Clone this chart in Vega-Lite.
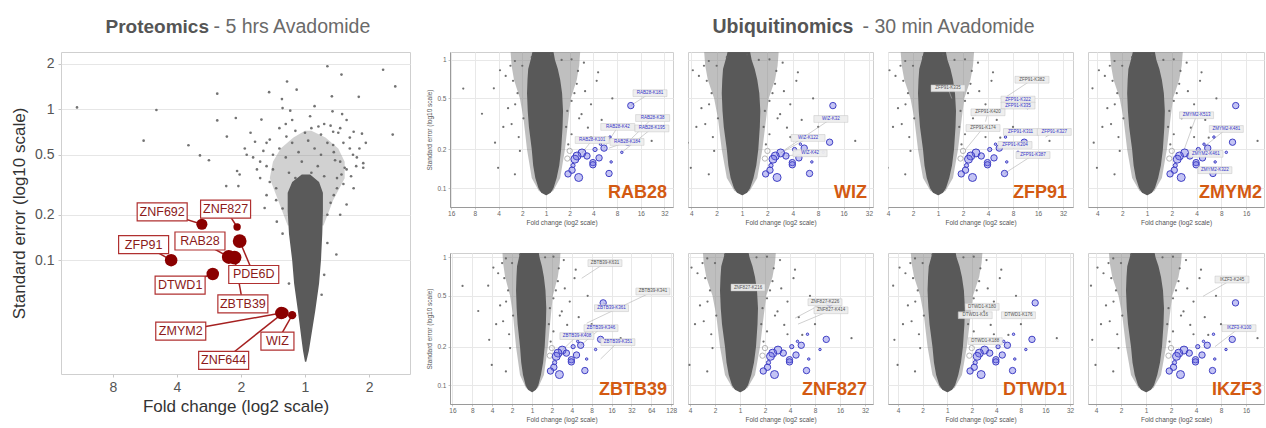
{
"$schema":"https://vega.github.io/schema/vega-lite/v6.json",
"background":"white",
"padding":{"left":10,"top":15,"right":0,"bottom":0},
"config":{"font":"Liberation Sans","view":{"stroke":"#cfcfcf"},"axis":{"domain":false,"tickColor":"#c8c8c8","gridColor":"#e6e6e6","labelColor":"#555555","titleColor":"#333333","titleFontWeight":"normal","labelFlush":false,"labelOverlap":false}},
"datasets":{
"haloL":[{"se":0.17,"lo":-0.27,"hi":0.29},{"se":0.25,"lo":-0.42,"hi":0.44},{"se":0.35,"lo":-0.55,"hi":0.62},{"se":0.45,"lo":-0.5,"hi":0.62},{"se":0.55,"lo":-0.38,"hi":0.52},{"se":0.65,"lo":-0.18,"hi":0.32},{"se":0.72,"lo":0.0,"hi":0.1}],
"cloudL":[{"se":0.0212,"lo":0.0,"hi":0.02},{"se":0.025,"lo":-0.03,"hi":0.06},{"se":0.03,"lo":-0.055,"hi":0.09},{"se":0.046,"lo":-0.11,"hi":0.16},{"se":0.07,"lo":-0.17,"hi":0.22},{"se":0.1,"lo":-0.2,"hi":0.25},{"se":0.15,"lo":-0.25,"hi":0.27},{"se":0.21,"lo":-0.27,"hi":0.28},{"se":0.28,"lo":-0.27,"hi":0.28},{"se":0.33,"lo":-0.2,"hi":0.22},{"se":0.37,"lo":-0.05,"hi":0.08}],
"ptsL":[{"l2":-3.56,"se":1.03},{"l2":-2.32,"se":0.99},{"l2":-2.52,"se":0.62},{"l2":-1.82,"se":0.578},{"l2":-1.64,"se":0.495},{"l2":-1.5,"se":0.46},{"l2":-1.37,"se":1.27},{"l2":-1.37,"se":0.845},{"l2":-1.22,"se":0.66},{"l2":-1.08,"se":0.877},{"l2":-0.68,"se":0.855},{"l2":-0.56,"se":1.3},{"l2":-0.28,"se":1.53},{"l2":-0.13,"se":1.35},{"l2":-0.36,"se":1.17},{"l2":-0.35,"se":1.02},{"l2":-0.23,"se":0.98},{"l2":0.35,"se":1.93},{"l2":0.57,"se":1.7},{"l2":0.42,"se":1.22},{"l2":0.43,"se":0.97},{"l2":0.58,"se":0.93},{"l2":0.84,"se":1.21},{"l2":1.22,"se":1.83},{"l2":1.41,"se":1.42},{"l2":1.37,"se":0.68},{"l2":0.89,"se":0.69},{"l2":0.76,"se":0.71},{"l2":0.44,"se":0.71},{"l2":0.08,"se":0.9},{"l2":0.21,"se":0.77},{"l2":-0.78,"se":0.61},{"l2":-0.94,"se":0.55},{"l2":-1.06,"se":0.39},{"l2":-1.23,"se":0.31},{"l2":-1.04,"se":0.31},{"l2":-0.63,"se":0.222},{"l2":-0.44,"se":0.18},{"l2":0.49,"se":0.109},{"l2":0.26,"se":0.059},{"l2":0.91,"se":0.41},{"l2":0.91,"se":0.44},{"l2":0.76,"se":0.3},{"l2":0.65,"se":0.234},{"l2":0.57,"se":0.37},{"l2":-0.81,"se":0.48},{"l2":-0.91,"se":0.5},{"l2":-0.65,"se":0.53},{"l2":-0.55,"se":0.63},{"l2":-0.29,"se":0.66},{"l2":0.52,"se":0.7},{"l2":0.7,"se":0.55},{"l2":0.81,"se":0.48},{"l2":0.47,"se":0.46},{"l2":0.62,"se":0.41},{"l2":-1.02,"se":0.37},{"l2":0.44,"se":0.58},{"l2":-0.5,"se":0.4},{"l2":0.5,"se":0.35},{"l2":-0.45,"se":0.3},{"l2":0.45,"se":0.27},{"l2":-0.7,"se":0.45},{"l2":0.75,"se":0.5},{"l2":-0.6,"se":0.27},{"l2":0.55,"se":0.2},{"l2":-0.35,"se":0.15},{"l2":0.35,"se":0.13},{"l2":0.3,"se":0.08},{"l2":-0.25,"se":0.07},{"l2":0.6,"se":0.6},{"l2":-0.4,"se":0.75},{"l2":0.3,"se":0.8},{"l2":-0.2,"se":0.85},{"l2":0.15,"se":1.05},{"l2":0.65,"se":0.85},{"l2":0.95,"se":0.6},{"l2":-0.85,"se":0.7},{"l2":-0.7,"se":0.35},{"l2":-0.6,"se":0.42},{"l2":-0.5,"se":0.5},{"l2":-0.4,"se":0.55},{"l2":-0.3,"se":0.48},{"l2":-0.2,"se":0.6},{"l2":-0.1,"se":0.52},{"l2":0.05,"se":0.62},{"l2":0.15,"se":0.55},{"l2":0.25,"se":0.5},{"l2":0.35,"se":0.6},{"l2":0.45,"se":0.52},{"l2":0.55,"se":0.45},{"l2":0.65,"se":0.4},{"l2":0.72,"se":0.36},{"l2":0.8,"se":0.42},{"l2":-0.75,"se":0.4},{"l2":-0.55,"se":0.33},{"l2":0.6,"se":0.32},{"l2":0.5,"se":0.3},{"l2":-0.45,"se":0.25},{"l2":0.4,"se":0.24},{"l2":-0.35,"se":0.22},{"l2":0.35,"se":0.2},{"l2":0.0,"se":0.7},{"l2":0.1,"se":0.75},{"l2":-0.15,"se":0.72},{"l2":0.25,"se":0.68},{"l2":0.4,"se":0.78},{"l2":-0.3,"se":0.8},{"l2":0.55,"se":0.75},{"l2":-0.6,"se":0.6},{"l2":0.85,"se":0.55},{"l2":0.7,"se":0.65},{"l2":-0.05,"se":0.45},{"l2":0.2,"se":0.42},{"l2":-0.25,"se":0.38},{"l2":0.3,"se":0.36},{"l2":-0.15,"se":0.35},{"l2":0.1,"se":0.38}],
"hitsL":[{"gene":"ZNF692","l2":-1.61,"se":0.173,"w":2,"lx":-2.23,"ly":0.209},{"gene":"ZNF827","l2":-1.06,"se":0.166,"w":1,"lx":-1.24,"ly":0.218},{"gene":"PDE6D","l2":-1.02,"se":0.134,"w":3,"lx":-0.8,"ly":0.0804},{"gene":"RAB28","l2":-1.19,"se":0.105,"w":3,"lx":-1.64,"ly":0.134},{"gene":"ZBTB39","l2":-1.1,"se":0.104,"w":3,"lx":-0.97,"ly":0.0514},{"gene":"ZFP91","l2":-2.09,"se":0.1,"w":2.5,"lx":-2.52,"ly":0.127},{"gene":"DTWD1","l2":-1.44,"se":0.081,"w":2.5,"lx":-1.95,"ly":0.0683},{"gene":"ZMYM2","l2":-0.37,"se":0.0446,"w":2.5,"lx":-1.94,"ly":0.0339},{"gene":"ZNF644","l2":-0.34,"se":0.0448,"w":2,"lx":-1.27,"ly":0.0217},{"gene":"WIZ","l2":-0.2,"se":0.0432,"w":1.2,"lx":-0.43,"ly":0.0291}],
"haloS":[{"se":0.09,"lo":0.0,"hi":0.02},{"se":0.095,"lo":-0.3,"hi":0.3},{"se":0.12,"lo":-0.6,"hi":0.6},{"se":0.2,"lo":-0.8,"hi":0.8},{"se":0.35,"lo":-0.95,"hi":0.95},{"se":0.5,"lo":-1.1,"hi":1.05},{"se":0.7,"lo":-1.35,"hi":1.3},{"se":0.9,"lo":-1.45,"hi":1.4},{"se":1.2,"lo":-1.5,"hi":1.45}],
"cloudS":[{"se":0.088,"lo":0.0,"hi":0.02},{"se":0.092,"lo":-0.2,"hi":0.2},{"se":0.1,"lo":-0.32,"hi":0.32},{"se":0.12,"lo":-0.45,"hi":0.45},{"se":0.15,"lo":-0.54,"hi":0.56},{"se":0.2,"lo":-0.6,"hi":0.64},{"se":0.3,"lo":-0.72,"hi":0.7},{"se":0.4,"lo":-0.77,"hi":0.72},{"se":0.55,"lo":-0.8,"hi":0.68},{"se":0.7,"lo":-0.78,"hi":0.6},{"se":0.85,"lo":-0.75,"hi":0.5},{"se":1.0,"lo":-0.65,"hi":0.38},{"se":1.2,"lo":-0.55,"hi":0.3}],
"ptsS":[{"l2":-3.49,"se":0.597},{"l2":-1.94,"se":0.83},{"l2":-2.15,"se":0.226},{"l2":-1.45,"se":0.316},{"l2":-1.6,"se":0.42},{"l2":-1.39,"se":0.686},{"l2":1.65,"se":0.57},{"l2":2.14,"se":0.686},{"l2":2.35,"se":0.34},{"l2":1.77,"se":0.296},{"l2":2.49,"se":0.247},{"l2":4.46,"se":0.233},{"l2":1.5,"se":0.377},{"l2":1.08,"se":0.478},{"l2":1.08,"se":0.263},{"l2":0.94,"se":0.219},{"l2":-2.02,"se":0.144},{"l2":-1.31,"se":0.128},{"l2":-1.1,"se":0.195},{"l2":-1.31,"se":0.98},{"l2":1.08,"se":1.01},{"l2":1.35,"se":0.82},{"l2":0.66,"se":1.0},{"l2":-1.0,"se":0.9},{"l2":-1.2,"se":0.55},{"l2":1.3,"se":0.65},{"l2":-0.95,"se":0.35},{"l2":0.9,"se":0.4},{"l2":-1.15,"se":0.25},{"l2":0.85,"se":0.3},{"l2":1.9,"se":0.45},{"l2":-1.7,"se":0.75},{"l2":1.6,"se":0.95},{"l2":-0.6,"se":1.05},{"l2":0.2,"se":1.1},{"l2":2.8,"se":0.5},{"l2":3.0,"se":0.3},{"l2":-2.7,"se":0.38},{"l2":-2.2,"se":0.6},{"l2":-1.8,"se":0.3},{"l2":1.9,"se":0.25},{"l2":2.2,"se":0.8},{"l2":-1.5,"se":0.9},{"l2":1.4,"se":0.35},{"l2":-1.3,"se":0.45},{"l2":1.2,"se":0.55}],
"grayS":[{"l2":1.0,"se":0.195},{"l2":0.9,"se":0.17}],
"blueS":[{"l2":3.58,"se":0.44,"w":2},{"l2":3.45,"se":0.228,"w":2},{"l2":2.45,"se":0.205,"w":2},{"l2":2.07,"se":0.2,"w":1},{"l2":1.52,"se":0.188,"w":3},{"l2":1.31,"se":0.178,"w":3},{"l2":1.22,"se":0.168,"w":3},{"l2":1.73,"se":0.178,"w":2},{"l2":2.24,"se":0.172,"w":2},{"l2":1.98,"se":0.158,"w":2},{"l2":1.98,"se":0.152,"w":2},{"l2":1.14,"se":0.15,"w":1},{"l2":1.1,"se":0.138,"w":2},{"l2":0.93,"se":0.129,"w":2},{"l2":1.38,"se":0.121,"w":3},{"l2":2.66,"se":0.13,"w":2},{"l2":2.3,"se":0.22,"w":0.5},{"l2":2.75,"se":0.16,"w":0.5},{"l2":2.7,"se":0.25,"w":0.5},{"l2":3.2,"se":0.19,"w":0.5}],
"labS":[
{"panel":"RAB28","txt":"RAB28-K181","lx":4.39,"ly":0.55,"tx":3.58,"ty":0.44,"kind":"blue"},
{"panel":"RAB28","txt":"RAB28-K38","lx":4.5,"ly":0.352,"tx":3.45,"ty":0.228,"kind":"blue"},
{"panel":"RAB28","txt":"RAB28-K42","lx":3.03,"ly":0.3,"tx":2.45,"ty":0.205,"kind":"blue"},
{"panel":"RAB28","txt":"RAB28-K195","lx":4.47,"ly":0.292,"tx":3.2,"ty":0.19,"kind":"blue"},
{"panel":"RAB28","txt":"RAB28-K101","lx":1.95,"ly":0.237,"tx":1.52,"ty":0.188,"kind":"blue"},
{"panel":"RAB28","txt":"RAB28-K184","lx":3.42,"ly":0.229,"tx":2.66,"ty":0.205,"kind":"blue"},
{"panel":"WIZ","txt":"WIZ-K32","lx":3.5,"ly":0.346,"tx":1.7,"ty":0.2,"kind":"blue"},
{"panel":"WIZ","txt":"WIZ-K122","lx":2.6,"ly":0.246,"tx":1.52,"ty":0.188,"kind":"blue"},
{"panel":"WIZ","txt":"WIZ-K42","lx":2.68,"ly":0.187,"tx":1.73,"ty":0.178,"kind":"blue"},
{"panel":"ZFP91","txt":"ZFP91-K382","lx":3.76,"ly":0.7,"tx":2.76,"ty":0.52,"kind":"gray"},
{"panel":"ZFP91","txt":"ZFP91-K335","lx":0.4,"ly":0.6,"tx":0.55,"ty":0.5,"kind":"gray"},
{"panel":"ZFP91","txt":"ZFP91-K322","lx":3.2,"ly":0.49,"tx":3.2,"ty":0.49,"kind":"blue"},
{"panel":"ZFP91","txt":"ZFP91-K335","lx":3.2,"ly":0.44,"tx":3.2,"ty":0.44,"kind":"blue"},
{"panel":"ZFP91","txt":"ZFP91-K420","lx":2.0,"ly":0.39,"tx":1.9,"ty":0.33,"kind":"gray"},
{"panel":"ZFP91","txt":"ZFP91-K174","lx":1.8,"ly":0.294,"tx":1.1,"ty":0.2,"kind":"gray"},
{"panel":"ZFP91","txt":"ZFP91-K311","lx":3.3,"ly":0.274,"tx":3.3,"ty":0.274,"kind":"blue"},
{"panel":"ZFP91","txt":"ZFP91-K327","lx":4.65,"ly":0.274,"tx":4.3,"ty":0.25,"kind":"blue"},
{"panel":"ZFP91","txt":"ZFP91-K204","lx":3.08,"ly":0.217,"tx":3.08,"ty":0.217,"kind":"blue"},
{"panel":"ZFP91","txt":"ZFP91-K387","lx":3.8,"ly":0.181,"tx":2.66,"ty":0.13,"kind":"blue"},
{"panel":"ZMYM2","txt":"ZMYM2-K513","lx":2.0,"ly":0.37,"tx":1.5,"ty":0.2,"kind":"blue"},
{"panel":"ZMYM2","txt":"ZMYM2-K481","lx":3.2,"ly":0.289,"tx":2.3,"ty":0.21,"kind":"blue"},
{"panel":"ZMYM2","txt":"ZMYM2-K461","lx":2.38,"ly":0.185,"tx":2.38,"ty":0.185,"kind":"blue"},
{"panel":"ZMYM2","txt":"ZMYM2-K322","lx":2.74,"ly":0.138,"tx":2.66,"ty":0.13,"kind":"blue"},
{"panel":"ZBTB39","txt":"ZBTB39-K631","lx":3.67,"ly":0.9,"tx":2.5,"ty":0.685,"kind":"gray"},
{"panel":"ZBTB39","txt":"ZBTB39-K341","lx":6.08,"ly":0.54,"tx":2.75,"ty":0.305,"kind":"gray"},
{"panel":"ZBTB39","txt":"ZBTB39-K361","lx":4.0,"ly":0.4,"tx":3.58,"ty":0.44,"kind":"blue"},
{"panel":"ZBTB39","txt":"ZBTB39-K346","lx":3.47,"ly":0.279,"tx":2.45,"ty":0.205,"kind":"blue"},
{"panel":"ZBTB39","txt":"ZBTB39-K408","lx":2.26,"ly":0.242,"tx":1.52,"ty":0.188,"kind":"blue"},
{"panel":"ZBTB39","txt":"ZBTB39-K351","lx":4.32,"ly":0.217,"tx":3.45,"ty":0.16,"kind":"blue"},
{"panel":"ZNF827","txt":"ZNF827-K216","lx":0.32,"ly":0.58,"tx":0.32,"ty":0.58,"kind":"gray"},
{"panel":"ZNF827","txt":"ZNF827-K226","lx":3.4,"ly":0.445,"tx":2.2,"ty":0.334,"kind":"gray"},
{"panel":"ZNF827","txt":"ZNF827-K414","lx":3.64,"ly":0.385,"tx":2.32,"ty":0.3,"kind":"gray"},
{"panel":"DTWD1","txt":"DTWD1-K180","lx":1.42,"ly":0.41,"tx":1.42,"ty":0.41,"kind":"gray"},
{"panel":"DTWD1","txt":"DTWD1-K16","lx":1.14,"ly":0.352,"tx":1.14,"ty":0.352,"kind":"gray"},
{"panel":"DTWD1","txt":"DTWD1-K176","lx":2.9,"ly":0.352,"tx":2.9,"ty":0.352,"kind":"gray"},
{"panel":"DTWD1","txt":"DTWD1-K188","lx":1.55,"ly":0.221,"tx":1.55,"ty":0.221,"kind":"gray"},
{"panel":"IKZF3","txt":"IKZF3-K245","lx":3.44,"ly":0.67,"tx":2.28,"ty":0.495,"kind":"gray"},
{"panel":"IKZF3","txt":"IKZF3-K100","lx":3.72,"ly":0.279,"tx":2.76,"ty":0.2,"kind":"blue"}
]
},
"bounds":"flush",
"spacing":40,
"resolve":{"scale":{"x":"independent","y":"independent","size":"independent","color":"independent"}},
"hconcat":[
{
"width":349,"height":322,
"resolve":{"axis":{"x":"independent"}},
"layer":[
{"data":{"name":"haloL"},"mark":{"type":"area","orient":"horizontal","color":"#7a7a7a","opacity":0.35,"clip":true},
"encoding":{"y":{"field":"se","type":"quantitative","scale":{"type":"log","domain":[0.0176,2.4]},"axis":{"values":[0.1,0.2,0.5,1,2],"format":"~g","title":"Standard error (log10 scale)","labelFontSize":14,"titleFontSize":17,"labelPadding":4,"titlePadding":6,"tickSize":3,"labelOverlap":false}},
"x":{"field":"lo","type":"quantitative","scale":{"domain":[-3.81,1.64]},"axis":{"orient":"top","labels":false,"ticks":false,"domain":false,"grid":false,"title":"Proteomics","titleFontSize":19,"titleFontWeight":"bold","titleColor":"#555555","titleAlign":"left","titleBaseline":"alphabetic","titleX":44,"titleY":-20}},
"x2":{"field":"hi"}}},
{"data":{"name":"cloudL"},"mark":{"type":"area","orient":"horizontal","color":"#5a5a5a","clip":true},
"encoding":{"y":{"field":"se","type":"quantitative","scale":{"type":"log","domain":[0.0176,2.4]}},
"x":{"field":"lo","type":"quantitative","scale":{"domain":[-3.81,1.64]},"axis":{"orient":"top","labels":false,"ticks":false,"domain":false,"grid":false,"title":"- 5 hrs Avadomide","titleFontSize":19.5,"titleFontWeight":"normal","titleColor":"#6a6a6a","titleAlign":"left","titleBaseline":"alphabetic","titleX":152,"titleY":-20}},
"x2":{"field":"hi"}}},
{"data":{"name":"ptsL"},"mark":{"type":"circle","size":7,"color":"#5a5a5a","opacity":0.85,"clip":true},
"encoding":{"y":{"field":"se","type":"quantitative","scale":{"type":"log","domain":[0.0176,2.4]}},
"x":{"field":"l2","type":"quantitative","scale":{"domain":[-3.81,1.64]},"axis":{"orient":"bottom","values":[-3,-2,-1,0,1],"labelExpr":"pow(2, abs(datum.value))","title":"Fold change (log2 scale)","labelFontSize":14,"titleFontSize":17,"labelPadding":3,"titlePadding":4,"tickSize":3,"labelOverlap":false}}}},
{"data":{"name":"hitsL"},"mark":{"type":"rule","color":"#a52020","strokeWidth":1.5},
"encoding":{"y":{"field":"se","type":"quantitative","scale":{"type":"log","domain":[0.0176,2.4]}},"x":{"field":"l2","type":"quantitative","scale":{"domain":[-3.81,1.64]},"axis":{"orient":"top","labels":false,"ticks":false,"domain":false,"grid":false,"title":"Ubiquitinomics","titleFontSize":19.5,"titleFontWeight":"bold","titleColor":"#555555","titleAlign":"left","titleBaseline":"alphabetic","titleX":651,"titleY":-20}},"y2":{"field":"ly"},"x2":{"field":"lx"}}},
{"data":{"name":"hitsL"},"mark":{"type":"circle","color":"#8b0000","opacity":1},
"encoding":{"y":{"field":"se","type":"quantitative","scale":{"type":"log","domain":[0.0176,2.4]}},"x":{"field":"l2","type":"quantitative","scale":{"domain":[-3.81,1.64]},"axis":{"orient":"top","labels":false,"ticks":false,"domain":false,"grid":false,"title":"- 30 min Avadomide","titleFontSize":19.5,"titleFontWeight":"normal","titleColor":"#6a6a6a","titleAlign":"left","titleBaseline":"alphabetic","titleX":801,"titleY":-20}},"size":{"field":"w","type":"quantitative","scale":{"domain":[1,3],"range":[55,190]},"legend":null}}},
{"data":{"name":"hitsL"},"transform":[{"filter":"datum.gene !== 'WIZ'"}],"mark":{"type":"point","shape":"M-1,-0.36L1,-0.36L1,0.36L-1,0.36Z","size":2500,"filled":true,"fill":"#ffffff","stroke":"#b03030","strokeWidth":1.2,"opacity":1},
"encoding":{"y":{"field":"ly","type":"quantitative","scale":{"type":"log","domain":[0.0176,2.4]}},"x":{"field":"lx","type":"quantitative","scale":{"domain":[-3.81,1.64]},"axis":null}}},
{"data":{"name":"hitsL"},"transform":[{"filter":"datum.gene === 'WIZ'"}],"mark":{"type":"point","shape":"M-1,-0.545L1,-0.545L1,0.545L-1,0.545Z","size":1089,"filled":true,"fill":"#ffffff","stroke":"#b03030","strokeWidth":1.2,"opacity":1},
"encoding":{"y":{"field":"ly","type":"quantitative","scale":{"type":"log","domain":[0.0176,2.4]}},"x":{"field":"lx","type":"quantitative","scale":{"domain":[-3.81,1.64]},"axis":null}}},
{"data":{"name":"hitsL"},"mark":{"type":"text","fontSize":12.5,"color":"#8b1a1a","baseline":"middle","align":"center"},
"encoding":{"y":{"field":"ly","type":"quantitative","scale":{"type":"log","domain":[0.0176,2.4]}},"x":{"field":"lx","type":"quantitative","scale":{"domain":[-3.81,1.64]},"axis":null},"text":{"field":"gene"}}}
]
},
{
"bounds":"flush",
"columns":4,
"spacing":{"row":46,"column":15},
"resolve":{"scale":{"x":"independent","y":"independent"}},
"concat":[
{"width":223,"height":155,"resolve":{"axis":{"x":"independent"}},
"title":{"text":"RAB28","orient":"top","anchor":"end","frame":"group","baseline":"alphabetic","offset":-164,"dx":-6,"fontSize":18,"fontWeight":"bold","color":"#d35a12"},
"layer":[
{"data":{"name":"haloS"},"mark":{"type":"area","orient":"horizontal","color":"#7f7f7f","opacity":0.5,"clip":true},"encoding":{"y":{"field":"se","type":"quantitative","scale":{"type":"log","domain":[0.0712,1.152]},"axis":{"values":[0.1,0.2,0.5,1],"format":"~g","title":"Standard error (log10 scale)","labelFontSize":6.5,"titleFontSize":6.5,"tickSize":2,"labelPadding":2,"titlePadding":4,"labelColor":"#666666","titleColor":"#555555","gridColor":"#e8e8e8","domain":true,"domainColor":"#9a9a9a","labelOverlap":false}},"x":{"field":"lo","type":"quantitative","scale":{"domain":[-4.05,5.36]},"axis":{"values":[-4,-3,-2,-1,0,1,2,3,4,5],"labelExpr":"pow(2, abs(datum.value))","title":"Fold change (log2 scale)","labelFontSize":6.5,"titleFontSize":6.5,"tickSize":2,"labelPadding":1,"titlePadding":3,"labelColor":"#666666","titleColor":"#555555","gridColor":"#e8e8e8","domain":true,"domainColor":"#9a9a9a","labelOverlap":false}},"x2":{"field":"hi"}}},
{"data":{"name":"cloudS"},"mark":{"type":"area","orient":"horizontal","color":"#595959","clip":true},"encoding":{"y":{"field":"se","type":"quantitative","scale":{"type":"log","domain":[0.0712,1.152]}},"x":{"field":"lo","type":"quantitative","scale":{"domain":[-4.05,5.36]},"axis":null},"x2":{"field":"hi"}}},
{"data":{"name":"ptsS"},"mark":{"type":"circle","size":5,"color":"#606060","opacity":0.9,"clip":true},"encoding":{"y":{"field":"se","type":"quantitative","scale":{"type":"log","domain":[0.0712,1.152]}},"x":{"field":"l2","type":"quantitative","scale":{"domain":[-4.05,5.36]},"axis":null}}},
{"data":{"name":"labS"},"transform":[{"filter":"datum.panel === 'RAB28'"}],"mark":{"type":"rule","color":"#b0b0b0","strokeWidth":0.6},"encoding":{"y":{"field":"ly","type":"quantitative","scale":{"type":"log","domain":[0.0712,1.152]}},"x":{"field":"lx","type":"quantitative","scale":{"domain":[-4.05,5.36]},"axis":null},"y2":{"field":"ty"},"x2":{"field":"tx"}}},
{"data":{"name":"grayS"},"mark":{"type":"point","size":28,"color":"#9a9a9a","strokeWidth":1,"clip":true},"encoding":{"y":{"field":"se","type":"quantitative","scale":{"type":"log","domain":[0.0712,1.152]}},"x":{"field":"l2","type":"quantitative","scale":{"domain":[-4.05,5.36]},"axis":null}}},
{"data":{"name":"blueS"},"mark":{"type":"circle","fill":"#6b6be3","fillOpacity":0.4,"stroke":"#3f3fc4","strokeWidth":1,"clip":true},"encoding":{"y":{"field":"se","type":"quantitative","scale":{"type":"log","domain":[0.0712,1.152]}},"x":{"field":"l2","type":"quantitative","scale":{"domain":[-4.05,5.36]},"axis":null},"size":{"field":"w","type":"quantitative","scale":{"domain":[0.5,3],"range":[6,64]},"legend":null}}},
{"data":{"name":"labS"},"transform":[{"filter":"datum.panel === 'RAB28'"}],"mark":{"type":"point","shape":"M-1,-0.2L1,-0.2L1,0.2L-1,0.2Z","size":1156,"filled":true,"fill":"#eeeeee","stroke":"#c2c2c2","strokeWidth":0.5,"opacity":0.95},"encoding":{"y":{"field":"ly","type":"quantitative","scale":{"type":"log","domain":[0.0712,1.152]}},"x":{"field":"lx","type":"quantitative","scale":{"domain":[-4.05,5.36]},"axis":null}}},
{"data":{"name":"labS"},"transform":[{"filter":"datum.panel === 'RAB28'"}],"mark":{"type":"text","fontSize":4.5,"baseline":"middle"},"encoding":{"y":{"field":"ly","type":"quantitative","scale":{"type":"log","domain":[0.0712,1.152]}},"x":{"field":"lx","type":"quantitative","scale":{"domain":[-4.05,5.36]},"axis":null},"text":{"field":"txt"},"color":{"field":"kind","type":"nominal","scale":{"domain":["blue","gray"],"range":["#3535c8","#555555"]},"legend":null}}}
]},
{"width":185,"height":155,"resolve":{"axis":{"x":"independent"}},
"title":{"text":"WIZ","orient":"top","anchor":"end","frame":"group","baseline":"alphabetic","offset":-164,"dx":-6,"fontSize":18,"fontWeight":"bold","color":"#d35a12"},
"layer":[
{"data":{"name":"haloS"},"mark":{"type":"area","orient":"horizontal","color":"#7f7f7f","opacity":0.5,"clip":true},"encoding":{"y":{"field":"se","type":"quantitative","scale":{"type":"log","domain":[0.0712,1.152]},"axis":{"values":[0.1,0.2,0.5,1],"labels":false,"ticks":false,"title":null,"gridColor":"#e8e8e8"}},"x":{"field":"lo","type":"quantitative","scale":{"domain":[-2.13,5.16]},"axis":{"values":[-2,-1,0,1,2,3,4,5],"labelExpr":"pow(2, abs(datum.value))","title":"Fold change (log2 scale)","labelFontSize":6.5,"titleFontSize":6.5,"tickSize":2,"labelPadding":1,"titlePadding":3,"labelColor":"#666666","titleColor":"#555555","gridColor":"#e8e8e8","domain":true,"domainColor":"#9a9a9a","labelOverlap":false}},"x2":{"field":"hi"}}},
{"data":{"name":"cloudS"},"mark":{"type":"area","orient":"horizontal","color":"#595959","clip":true},"encoding":{"y":{"field":"se","type":"quantitative","scale":{"type":"log","domain":[0.0712,1.152]}},"x":{"field":"lo","type":"quantitative","scale":{"domain":[-2.13,5.16]},"axis":null},"x2":{"field":"hi"}}},
{"data":{"name":"ptsS"},"mark":{"type":"circle","size":5,"color":"#606060","opacity":0.9,"clip":true},"encoding":{"y":{"field":"se","type":"quantitative","scale":{"type":"log","domain":[0.0712,1.152]}},"x":{"field":"l2","type":"quantitative","scale":{"domain":[-2.13,5.16]},"axis":null}}},
{"data":{"name":"labS"},"transform":[{"filter":"datum.panel === 'WIZ'"}],"mark":{"type":"rule","color":"#b0b0b0","strokeWidth":0.6},"encoding":{"y":{"field":"ly","type":"quantitative","scale":{"type":"log","domain":[0.0712,1.152]}},"x":{"field":"lx","type":"quantitative","scale":{"domain":[-2.13,5.16]},"axis":null},"y2":{"field":"ty"},"x2":{"field":"tx"}}},
{"data":{"name":"grayS"},"mark":{"type":"point","size":28,"color":"#9a9a9a","strokeWidth":1,"clip":true},"encoding":{"y":{"field":"se","type":"quantitative","scale":{"type":"log","domain":[0.0712,1.152]}},"x":{"field":"l2","type":"quantitative","scale":{"domain":[-2.13,5.16]},"axis":null}}},
{"data":{"name":"blueS"},"mark":{"type":"circle","fill":"#6b6be3","fillOpacity":0.4,"stroke":"#3f3fc4","strokeWidth":1,"clip":true},"encoding":{"y":{"field":"se","type":"quantitative","scale":{"type":"log","domain":[0.0712,1.152]}},"x":{"field":"l2","type":"quantitative","scale":{"domain":[-2.13,5.16]},"axis":null},"size":{"field":"w","type":"quantitative","scale":{"domain":[0.5,3],"range":[6,64]},"legend":null}}},
{"data":{"name":"labS"},"transform":[{"filter":"datum.panel === 'WIZ'"}],"mark":{"type":"point","shape":"M-1,-0.2L1,-0.2L1,0.2L-1,0.2Z","size":1156,"filled":true,"fill":"#eeeeee","stroke":"#c2c2c2","strokeWidth":0.5,"opacity":0.95},"encoding":{"y":{"field":"ly","type":"quantitative","scale":{"type":"log","domain":[0.0712,1.152]}},"x":{"field":"lx","type":"quantitative","scale":{"domain":[-2.13,5.16]},"axis":null}}},
{"data":{"name":"labS"},"transform":[{"filter":"datum.panel === 'WIZ'"}],"mark":{"type":"text","fontSize":4.5,"baseline":"middle"},"encoding":{"y":{"field":"ly","type":"quantitative","scale":{"type":"log","domain":[0.0712,1.152]}},"x":{"field":"lx","type":"quantitative","scale":{"domain":[-2.13,5.16]},"axis":null},"text":{"field":"txt"},"color":{"field":"kind","type":"nominal","scale":{"domain":["blue","gray"],"range":["#3535c8","#555555"]},"legend":null}}}
]},
{"width":185,"height":155,"resolve":{"axis":{"x":"independent"}},
"title":{"text":"ZFP91","orient":"top","anchor":"end","frame":"group","baseline":"alphabetic","offset":-164,"dx":-6,"fontSize":18,"fontWeight":"bold","color":"#d35a12"},
"layer":[
{"data":{"name":"haloS"},"mark":{"type":"area","orient":"horizontal","color":"#7f7f7f","opacity":0.5,"clip":true},"encoding":{"y":{"field":"se","type":"quantitative","scale":{"type":"log","domain":[0.0712,1.152]},"axis":{"values":[0.1,0.2,0.5,1],"labels":false,"ticks":false,"title":null,"gridColor":"#e8e8e8"}},"x":{"field":"lo","type":"quantitative","scale":{"domain":[-2.0,5.4]},"axis":{"values":[-2,-1,0,1,2,3,4,5],"labelExpr":"pow(2, abs(datum.value))","title":"Fold change (log2 scale)","labelFontSize":6.5,"titleFontSize":6.5,"tickSize":2,"labelPadding":1,"titlePadding":3,"labelColor":"#666666","titleColor":"#555555","gridColor":"#e8e8e8","domain":true,"domainColor":"#9a9a9a","labelOverlap":false}},"x2":{"field":"hi"}}},
{"data":{"name":"cloudS"},"mark":{"type":"area","orient":"horizontal","color":"#595959","clip":true},"encoding":{"y":{"field":"se","type":"quantitative","scale":{"type":"log","domain":[0.0712,1.152]}},"x":{"field":"lo","type":"quantitative","scale":{"domain":[-2.0,5.4]},"axis":null},"x2":{"field":"hi"}}},
{"data":{"name":"ptsS"},"mark":{"type":"circle","size":5,"color":"#606060","opacity":0.9,"clip":true},"encoding":{"y":{"field":"se","type":"quantitative","scale":{"type":"log","domain":[0.0712,1.152]}},"x":{"field":"l2","type":"quantitative","scale":{"domain":[-2.0,5.4]},"axis":null}}},
{"data":{"name":"labS"},"transform":[{"filter":"datum.panel === 'ZFP91'"}],"mark":{"type":"rule","color":"#b0b0b0","strokeWidth":0.6},"encoding":{"y":{"field":"ly","type":"quantitative","scale":{"type":"log","domain":[0.0712,1.152]}},"x":{"field":"lx","type":"quantitative","scale":{"domain":[-2.0,5.4]},"axis":null},"y2":{"field":"ty"},"x2":{"field":"tx"}}},
{"data":{"name":"grayS"},"mark":{"type":"point","size":28,"color":"#9a9a9a","strokeWidth":1,"clip":true},"encoding":{"y":{"field":"se","type":"quantitative","scale":{"type":"log","domain":[0.0712,1.152]}},"x":{"field":"l2","type":"quantitative","scale":{"domain":[-2.0,5.4]},"axis":null}}},
{"data":{"name":"blueS"},"mark":{"type":"circle","fill":"#6b6be3","fillOpacity":0.4,"stroke":"#3f3fc4","strokeWidth":1,"clip":true},"encoding":{"y":{"field":"se","type":"quantitative","scale":{"type":"log","domain":[0.0712,1.152]}},"x":{"field":"l2","type":"quantitative","scale":{"domain":[-2.0,5.4]},"axis":null},"size":{"field":"w","type":"quantitative","scale":{"domain":[0.5,3],"range":[6,64]},"legend":null}}},
{"data":{"name":"labS"},"transform":[{"filter":"datum.panel === 'ZFP91'"}],"mark":{"type":"point","shape":"M-1,-0.2L1,-0.2L1,0.2L-1,0.2Z","size":1156,"filled":true,"fill":"#eeeeee","stroke":"#c2c2c2","strokeWidth":0.5,"opacity":0.95},"encoding":{"y":{"field":"ly","type":"quantitative","scale":{"type":"log","domain":[0.0712,1.152]}},"x":{"field":"lx","type":"quantitative","scale":{"domain":[-2.0,5.4]},"axis":null}}},
{"data":{"name":"labS"},"transform":[{"filter":"datum.panel === 'ZFP91'"}],"mark":{"type":"text","fontSize":4.5,"baseline":"middle"},"encoding":{"y":{"field":"ly","type":"quantitative","scale":{"type":"log","domain":[0.0712,1.152]}},"x":{"field":"lx","type":"quantitative","scale":{"domain":[-2.0,5.4]},"axis":null},"text":{"field":"txt"},"color":{"field":"kind","type":"nominal","scale":{"domain":["blue","gray"],"range":["#3535c8","#555555"]},"legend":null}}}
]},
{"width":176,"height":155,"resolve":{"axis":{"x":"independent"}},
"title":{"text":"ZMYM2","orient":"top","anchor":"end","frame":"group","baseline":"alphabetic","offset":-164,"dx":-2,"fontSize":18,"fontWeight":"bold","color":"#d35a12"},
"layer":[
{"data":{"name":"haloS"},"mark":{"type":"area","orient":"horizontal","color":"#7f7f7f","opacity":0.5,"clip":true},"encoding":{"y":{"field":"se","type":"quantitative","scale":{"type":"log","domain":[0.0712,1.152]},"axis":{"values":[0.1,0.2,0.5,1],"labels":false,"ticks":false,"title":null,"gridColor":"#e8e8e8"}},"x":{"field":"lo","type":"quantitative","scale":{"domain":[-2.38,4.72]},"axis":{"values":[-2,-1,0,1,2,3,4],"labelExpr":"pow(2, abs(datum.value))","title":"Fold change (log2 scale)","labelFontSize":6.5,"titleFontSize":6.5,"tickSize":2,"labelPadding":1,"titlePadding":3,"labelColor":"#666666","titleColor":"#555555","gridColor":"#e8e8e8","domain":true,"domainColor":"#9a9a9a","labelOverlap":false}},"x2":{"field":"hi"}}},
{"data":{"name":"cloudS"},"mark":{"type":"area","orient":"horizontal","color":"#595959","clip":true},"encoding":{"y":{"field":"se","type":"quantitative","scale":{"type":"log","domain":[0.0712,1.152]}},"x":{"field":"lo","type":"quantitative","scale":{"domain":[-2.38,4.72]},"axis":null},"x2":{"field":"hi"}}},
{"data":{"name":"ptsS"},"mark":{"type":"circle","size":5,"color":"#606060","opacity":0.9,"clip":true},"encoding":{"y":{"field":"se","type":"quantitative","scale":{"type":"log","domain":[0.0712,1.152]}},"x":{"field":"l2","type":"quantitative","scale":{"domain":[-2.38,4.72]},"axis":null}}},
{"data":{"name":"labS"},"transform":[{"filter":"datum.panel === 'ZMYM2'"}],"mark":{"type":"rule","color":"#b0b0b0","strokeWidth":0.6},"encoding":{"y":{"field":"ly","type":"quantitative","scale":{"type":"log","domain":[0.0712,1.152]}},"x":{"field":"lx","type":"quantitative","scale":{"domain":[-2.38,4.72]},"axis":null},"y2":{"field":"ty"},"x2":{"field":"tx"}}},
{"data":{"name":"grayS"},"mark":{"type":"point","size":28,"color":"#9a9a9a","strokeWidth":1,"clip":true},"encoding":{"y":{"field":"se","type":"quantitative","scale":{"type":"log","domain":[0.0712,1.152]}},"x":{"field":"l2","type":"quantitative","scale":{"domain":[-2.38,4.72]},"axis":null}}},
{"data":{"name":"blueS"},"mark":{"type":"circle","fill":"#6b6be3","fillOpacity":0.4,"stroke":"#3f3fc4","strokeWidth":1,"clip":true},"encoding":{"y":{"field":"se","type":"quantitative","scale":{"type":"log","domain":[0.0712,1.152]}},"x":{"field":"l2","type":"quantitative","scale":{"domain":[-2.38,4.72]},"axis":null},"size":{"field":"w","type":"quantitative","scale":{"domain":[0.5,3],"range":[6,64]},"legend":null}}},
{"data":{"name":"labS"},"transform":[{"filter":"datum.panel === 'ZMYM2'"}],"mark":{"type":"point","shape":"M-1,-0.2L1,-0.2L1,0.2L-1,0.2Z","size":1156,"filled":true,"fill":"#eeeeee","stroke":"#c2c2c2","strokeWidth":0.5,"opacity":0.95},"encoding":{"y":{"field":"ly","type":"quantitative","scale":{"type":"log","domain":[0.0712,1.152]}},"x":{"field":"lx","type":"quantitative","scale":{"domain":[-2.38,4.72]},"axis":null}}},
{"data":{"name":"labS"},"transform":[{"filter":"datum.panel === 'ZMYM2'"}],"mark":{"type":"text","fontSize":4.5,"baseline":"middle"},"encoding":{"y":{"field":"ly","type":"quantitative","scale":{"type":"log","domain":[0.0712,1.152]}},"x":{"field":"lx","type":"quantitative","scale":{"domain":[-2.38,4.72]},"axis":null},"text":{"field":"txt"},"color":{"field":"kind","type":"nominal","scale":{"domain":["blue","gray"],"range":["#3535c8","#555555"]},"legend":null}}}
]},
{"width":223,"height":151,"resolve":{"axis":{"x":"independent"}},
"title":{"text":"ZBTB39","orient":"top","anchor":"end","frame":"group","baseline":"alphabetic","offset":-160,"dx":-6,"fontSize":18,"fontWeight":"bold","color":"#d35a12"},
"layer":[
{"data":{"name":"haloS"},"mark":{"type":"area","orient":"horizontal","color":"#7f7f7f","opacity":0.5,"clip":true},"encoding":{"y":{"field":"se","type":"quantitative","scale":{"type":"log","domain":[0.0712,1.08]},"axis":{"values":[0.1,0.2,0.5,1],"format":"~g","title":"Standard error (log10 scale)","labelFontSize":6.5,"titleFontSize":6.5,"tickSize":2,"labelPadding":2,"titlePadding":4,"labelColor":"#666666","titleColor":"#555555","gridColor":"#e8e8e8","domain":true,"domainColor":"#9a9a9a","labelOverlap":false}},"x":{"field":"lo","type":"quantitative","scale":{"domain":[-4.12,7.09]},"axis":{"values":[-4,-3,-2,-1,0,1,2,3,4,5,6,7],"labelExpr":"pow(2, abs(datum.value))","title":"Fold change (log2 scale)","labelFontSize":6.5,"titleFontSize":6.5,"tickSize":2,"labelPadding":1,"titlePadding":3,"labelColor":"#666666","titleColor":"#555555","gridColor":"#e8e8e8","domain":true,"domainColor":"#9a9a9a","labelOverlap":false}},"x2":{"field":"hi"}}},
{"data":{"name":"cloudS"},"mark":{"type":"area","orient":"horizontal","color":"#595959","clip":true},"encoding":{"y":{"field":"se","type":"quantitative","scale":{"type":"log","domain":[0.0712,1.08]}},"x":{"field":"lo","type":"quantitative","scale":{"domain":[-4.12,7.09]},"axis":null},"x2":{"field":"hi"}}},
{"data":{"name":"ptsS"},"mark":{"type":"circle","size":5,"color":"#606060","opacity":0.9,"clip":true},"encoding":{"y":{"field":"se","type":"quantitative","scale":{"type":"log","domain":[0.0712,1.08]}},"x":{"field":"l2","type":"quantitative","scale":{"domain":[-4.12,7.09]},"axis":null}}},
{"data":{"name":"labS"},"transform":[{"filter":"datum.panel === 'ZBTB39'"}],"mark":{"type":"rule","color":"#b0b0b0","strokeWidth":0.6},"encoding":{"y":{"field":"ly","type":"quantitative","scale":{"type":"log","domain":[0.0712,1.08]}},"x":{"field":"lx","type":"quantitative","scale":{"domain":[-4.12,7.09]},"axis":null},"y2":{"field":"ty"},"x2":{"field":"tx"}}},
{"data":{"name":"grayS"},"mark":{"type":"point","size":28,"color":"#9a9a9a","strokeWidth":1,"clip":true},"encoding":{"y":{"field":"se","type":"quantitative","scale":{"type":"log","domain":[0.0712,1.08]}},"x":{"field":"l2","type":"quantitative","scale":{"domain":[-4.12,7.09]},"axis":null}}},
{"data":{"name":"blueS"},"mark":{"type":"circle","fill":"#6b6be3","fillOpacity":0.4,"stroke":"#3f3fc4","strokeWidth":1,"clip":true},"encoding":{"y":{"field":"se","type":"quantitative","scale":{"type":"log","domain":[0.0712,1.08]}},"x":{"field":"l2","type":"quantitative","scale":{"domain":[-4.12,7.09]},"axis":null},"size":{"field":"w","type":"quantitative","scale":{"domain":[0.5,3],"range":[6,64]},"legend":null}}},
{"data":{"name":"labS"},"transform":[{"filter":"datum.panel === 'ZBTB39'"}],"mark":{"type":"point","shape":"M-1,-0.2L1,-0.2L1,0.2L-1,0.2Z","size":1156,"filled":true,"fill":"#eeeeee","stroke":"#c2c2c2","strokeWidth":0.5,"opacity":0.95},"encoding":{"y":{"field":"ly","type":"quantitative","scale":{"type":"log","domain":[0.0712,1.08]}},"x":{"field":"lx","type":"quantitative","scale":{"domain":[-4.12,7.09]},"axis":null}}},
{"data":{"name":"labS"},"transform":[{"filter":"datum.panel === 'ZBTB39'"}],"mark":{"type":"text","fontSize":4.5,"baseline":"middle"},"encoding":{"y":{"field":"ly","type":"quantitative","scale":{"type":"log","domain":[0.0712,1.08]}},"x":{"field":"lx","type":"quantitative","scale":{"domain":[-4.12,7.09]},"axis":null},"text":{"field":"txt"},"color":{"field":"kind","type":"nominal","scale":{"domain":["blue","gray"],"range":["#3535c8","#555555"]},"legend":null}}}
]},
{"width":185,"height":151,"resolve":{"axis":{"x":"independent"}},
"title":{"text":"ZNF827","orient":"top","anchor":"end","frame":"group","baseline":"alphabetic","offset":-160,"dx":-6,"fontSize":18,"fontWeight":"bold","color":"#d35a12"},
"layer":[
{"data":{"name":"haloS"},"mark":{"type":"area","orient":"horizontal","color":"#7f7f7f","opacity":0.5,"clip":true},"encoding":{"y":{"field":"se","type":"quantitative","scale":{"type":"log","domain":[0.0712,1.08]},"axis":{"values":[0.1,0.2,0.5,1],"labels":false,"ticks":false,"title":null,"gridColor":"#e8e8e8"}},"x":{"field":"lo","type":"quantitative","scale":{"domain":[-2.08,5.32]},"axis":{"values":[-2,-1,0,1,2,3,4,5],"labelExpr":"pow(2, abs(datum.value))","title":"Fold change (log2 scale)","labelFontSize":6.5,"titleFontSize":6.5,"tickSize":2,"labelPadding":1,"titlePadding":3,"labelColor":"#666666","titleColor":"#555555","gridColor":"#e8e8e8","domain":true,"domainColor":"#9a9a9a","labelOverlap":false}},"x2":{"field":"hi"}}},
{"data":{"name":"cloudS"},"mark":{"type":"area","orient":"horizontal","color":"#595959","clip":true},"encoding":{"y":{"field":"se","type":"quantitative","scale":{"type":"log","domain":[0.0712,1.08]}},"x":{"field":"lo","type":"quantitative","scale":{"domain":[-2.08,5.32]},"axis":null},"x2":{"field":"hi"}}},
{"data":{"name":"ptsS"},"mark":{"type":"circle","size":5,"color":"#606060","opacity":0.9,"clip":true},"encoding":{"y":{"field":"se","type":"quantitative","scale":{"type":"log","domain":[0.0712,1.08]}},"x":{"field":"l2","type":"quantitative","scale":{"domain":[-2.08,5.32]},"axis":null}}},
{"data":{"name":"labS"},"transform":[{"filter":"datum.panel === 'ZNF827'"}],"mark":{"type":"rule","color":"#b0b0b0","strokeWidth":0.6},"encoding":{"y":{"field":"ly","type":"quantitative","scale":{"type":"log","domain":[0.0712,1.08]}},"x":{"field":"lx","type":"quantitative","scale":{"domain":[-2.08,5.32]},"axis":null},"y2":{"field":"ty"},"x2":{"field":"tx"}}},
{"data":{"name":"grayS"},"mark":{"type":"point","size":28,"color":"#9a9a9a","strokeWidth":1,"clip":true},"encoding":{"y":{"field":"se","type":"quantitative","scale":{"type":"log","domain":[0.0712,1.08]}},"x":{"field":"l2","type":"quantitative","scale":{"domain":[-2.08,5.32]},"axis":null}}},
{"data":{"name":"blueS"},"mark":{"type":"circle","fill":"#6b6be3","fillOpacity":0.4,"stroke":"#3f3fc4","strokeWidth":1,"clip":true},"encoding":{"y":{"field":"se","type":"quantitative","scale":{"type":"log","domain":[0.0712,1.08]}},"x":{"field":"l2","type":"quantitative","scale":{"domain":[-2.08,5.32]},"axis":null},"size":{"field":"w","type":"quantitative","scale":{"domain":[0.5,3],"range":[6,64]},"legend":null}}},
{"data":{"name":"labS"},"transform":[{"filter":"datum.panel === 'ZNF827'"}],"mark":{"type":"point","shape":"M-1,-0.2L1,-0.2L1,0.2L-1,0.2Z","size":1156,"filled":true,"fill":"#eeeeee","stroke":"#c2c2c2","strokeWidth":0.5,"opacity":0.95},"encoding":{"y":{"field":"ly","type":"quantitative","scale":{"type":"log","domain":[0.0712,1.08]}},"x":{"field":"lx","type":"quantitative","scale":{"domain":[-2.08,5.32]},"axis":null}}},
{"data":{"name":"labS"},"transform":[{"filter":"datum.panel === 'ZNF827'"}],"mark":{"type":"text","fontSize":4.5,"baseline":"middle"},"encoding":{"y":{"field":"ly","type":"quantitative","scale":{"type":"log","domain":[0.0712,1.08]}},"x":{"field":"lx","type":"quantitative","scale":{"domain":[-2.08,5.32]},"axis":null},"text":{"field":"txt"},"color":{"field":"kind","type":"nominal","scale":{"domain":["blue","gray"],"range":["#3535c8","#555555"]},"legend":null}}}
]},
{"width":185,"height":151,"resolve":{"axis":{"x":"independent"}},
"title":{"text":"DTWD1","orient":"top","anchor":"end","frame":"group","baseline":"alphabetic","offset":-160,"dx":-6,"fontSize":18,"fontWeight":"bold","color":"#d35a12"},
"layer":[
{"data":{"name":"haloS"},"mark":{"type":"area","orient":"horizontal","color":"#7f7f7f","opacity":0.5,"clip":true},"encoding":{"y":{"field":"se","type":"quantitative","scale":{"type":"log","domain":[0.0712,1.08]},"axis":{"values":[0.1,0.2,0.5,1],"labels":false,"ticks":false,"title":null,"gridColor":"#e8e8e8"}},"x":{"field":"lo","type":"quantitative","scale":{"domain":[-2.41,5.12]},"axis":{"values":[-2,-1,0,1,2,3,4,5],"labelExpr":"pow(2, abs(datum.value))","title":"Fold change (log2 scale)","labelFontSize":6.5,"titleFontSize":6.5,"tickSize":2,"labelPadding":1,"titlePadding":3,"labelColor":"#666666","titleColor":"#555555","gridColor":"#e8e8e8","domain":true,"domainColor":"#9a9a9a","labelOverlap":false}},"x2":{"field":"hi"}}},
{"data":{"name":"cloudS"},"mark":{"type":"area","orient":"horizontal","color":"#595959","clip":true},"encoding":{"y":{"field":"se","type":"quantitative","scale":{"type":"log","domain":[0.0712,1.08]}},"x":{"field":"lo","type":"quantitative","scale":{"domain":[-2.41,5.12]},"axis":null},"x2":{"field":"hi"}}},
{"data":{"name":"ptsS"},"mark":{"type":"circle","size":5,"color":"#606060","opacity":0.9,"clip":true},"encoding":{"y":{"field":"se","type":"quantitative","scale":{"type":"log","domain":[0.0712,1.08]}},"x":{"field":"l2","type":"quantitative","scale":{"domain":[-2.41,5.12]},"axis":null}}},
{"data":{"name":"labS"},"transform":[{"filter":"datum.panel === 'DTWD1'"}],"mark":{"type":"rule","color":"#b0b0b0","strokeWidth":0.6},"encoding":{"y":{"field":"ly","type":"quantitative","scale":{"type":"log","domain":[0.0712,1.08]}},"x":{"field":"lx","type":"quantitative","scale":{"domain":[-2.41,5.12]},"axis":null},"y2":{"field":"ty"},"x2":{"field":"tx"}}},
{"data":{"name":"grayS"},"mark":{"type":"point","size":28,"color":"#9a9a9a","strokeWidth":1,"clip":true},"encoding":{"y":{"field":"se","type":"quantitative","scale":{"type":"log","domain":[0.0712,1.08]}},"x":{"field":"l2","type":"quantitative","scale":{"domain":[-2.41,5.12]},"axis":null}}},
{"data":{"name":"blueS"},"mark":{"type":"circle","fill":"#6b6be3","fillOpacity":0.4,"stroke":"#3f3fc4","strokeWidth":1,"clip":true},"encoding":{"y":{"field":"se","type":"quantitative","scale":{"type":"log","domain":[0.0712,1.08]}},"x":{"field":"l2","type":"quantitative","scale":{"domain":[-2.41,5.12]},"axis":null},"size":{"field":"w","type":"quantitative","scale":{"domain":[0.5,3],"range":[6,64]},"legend":null}}},
{"data":{"name":"labS"},"transform":[{"filter":"datum.panel === 'DTWD1'"}],"mark":{"type":"point","shape":"M-1,-0.2L1,-0.2L1,0.2L-1,0.2Z","size":1156,"filled":true,"fill":"#eeeeee","stroke":"#c2c2c2","strokeWidth":0.5,"opacity":0.95},"encoding":{"y":{"field":"ly","type":"quantitative","scale":{"type":"log","domain":[0.0712,1.08]}},"x":{"field":"lx","type":"quantitative","scale":{"domain":[-2.41,5.12]},"axis":null}}},
{"data":{"name":"labS"},"transform":[{"filter":"datum.panel === 'DTWD1'"}],"mark":{"type":"text","fontSize":4.5,"baseline":"middle"},"encoding":{"y":{"field":"ly","type":"quantitative","scale":{"type":"log","domain":[0.0712,1.08]}},"x":{"field":"lx","type":"quantitative","scale":{"domain":[-2.41,5.12]},"axis":null},"text":{"field":"txt"},"color":{"field":"kind","type":"nominal","scale":{"domain":["blue","gray"],"range":["#3535c8","#555555"]},"legend":null}}}
]},
{"width":176,"height":151,"resolve":{"axis":{"x":"independent"}},
"title":{"text":"IKZF3","orient":"top","anchor":"end","frame":"group","baseline":"alphabetic","offset":-160,"dx":-2,"fontSize":18,"fontWeight":"bold","color":"#d35a12"},
"layer":[
{"data":{"name":"haloS"},"mark":{"type":"area","orient":"horizontal","color":"#7f7f7f","opacity":0.5,"clip":true},"encoding":{"y":{"field":"se","type":"quantitative","scale":{"type":"log","domain":[0.0712,1.08]},"axis":{"values":[0.1,0.2,0.5,1],"labels":false,"ticks":false,"title":null,"gridColor":"#e8e8e8"}},"x":{"field":"lo","type":"quantitative","scale":{"domain":[-2.32,4.72]},"axis":{"values":[-2,-1,0,1,2,3,4],"labelExpr":"pow(2, abs(datum.value))","title":"Fold change (log2 scale)","labelFontSize":6.5,"titleFontSize":6.5,"tickSize":2,"labelPadding":1,"titlePadding":3,"labelColor":"#666666","titleColor":"#555555","gridColor":"#e8e8e8","domain":true,"domainColor":"#9a9a9a","labelOverlap":false}},"x2":{"field":"hi"}}},
{"data":{"name":"cloudS"},"mark":{"type":"area","orient":"horizontal","color":"#595959","clip":true},"encoding":{"y":{"field":"se","type":"quantitative","scale":{"type":"log","domain":[0.0712,1.08]}},"x":{"field":"lo","type":"quantitative","scale":{"domain":[-2.32,4.72]},"axis":null},"x2":{"field":"hi"}}},
{"data":{"name":"ptsS"},"mark":{"type":"circle","size":5,"color":"#606060","opacity":0.9,"clip":true},"encoding":{"y":{"field":"se","type":"quantitative","scale":{"type":"log","domain":[0.0712,1.08]}},"x":{"field":"l2","type":"quantitative","scale":{"domain":[-2.32,4.72]},"axis":null}}},
{"data":{"name":"labS"},"transform":[{"filter":"datum.panel === 'IKZF3'"}],"mark":{"type":"rule","color":"#b0b0b0","strokeWidth":0.6},"encoding":{"y":{"field":"ly","type":"quantitative","scale":{"type":"log","domain":[0.0712,1.08]}},"x":{"field":"lx","type":"quantitative","scale":{"domain":[-2.32,4.72]},"axis":null},"y2":{"field":"ty"},"x2":{"field":"tx"}}},
{"data":{"name":"grayS"},"mark":{"type":"point","size":28,"color":"#9a9a9a","strokeWidth":1,"clip":true},"encoding":{"y":{"field":"se","type":"quantitative","scale":{"type":"log","domain":[0.0712,1.08]}},"x":{"field":"l2","type":"quantitative","scale":{"domain":[-2.32,4.72]},"axis":null}}},
{"data":{"name":"blueS"},"mark":{"type":"circle","fill":"#6b6be3","fillOpacity":0.4,"stroke":"#3f3fc4","strokeWidth":1,"clip":true},"encoding":{"y":{"field":"se","type":"quantitative","scale":{"type":"log","domain":[0.0712,1.08]}},"x":{"field":"l2","type":"quantitative","scale":{"domain":[-2.32,4.72]},"axis":null},"size":{"field":"w","type":"quantitative","scale":{"domain":[0.5,3],"range":[6,64]},"legend":null}}},
{"data":{"name":"labS"},"transform":[{"filter":"datum.panel === 'IKZF3'"}],"mark":{"type":"point","shape":"M-1,-0.2L1,-0.2L1,0.2L-1,0.2Z","size":1156,"filled":true,"fill":"#eeeeee","stroke":"#c2c2c2","strokeWidth":0.5,"opacity":0.95},"encoding":{"y":{"field":"ly","type":"quantitative","scale":{"type":"log","domain":[0.0712,1.08]}},"x":{"field":"lx","type":"quantitative","scale":{"domain":[-2.32,4.72]},"axis":null}}},
{"data":{"name":"labS"},"transform":[{"filter":"datum.panel === 'IKZF3'"}],"mark":{"type":"text","fontSize":4.5,"baseline":"middle"},"encoding":{"y":{"field":"ly","type":"quantitative","scale":{"type":"log","domain":[0.0712,1.08]}},"x":{"field":"lx","type":"quantitative","scale":{"domain":[-2.32,4.72]},"axis":null},"text":{"field":"txt"},"color":{"field":"kind","type":"nominal","scale":{"domain":["blue","gray"],"range":["#3535c8","#555555"]},"legend":null}}}
]}
]
}
]
}
